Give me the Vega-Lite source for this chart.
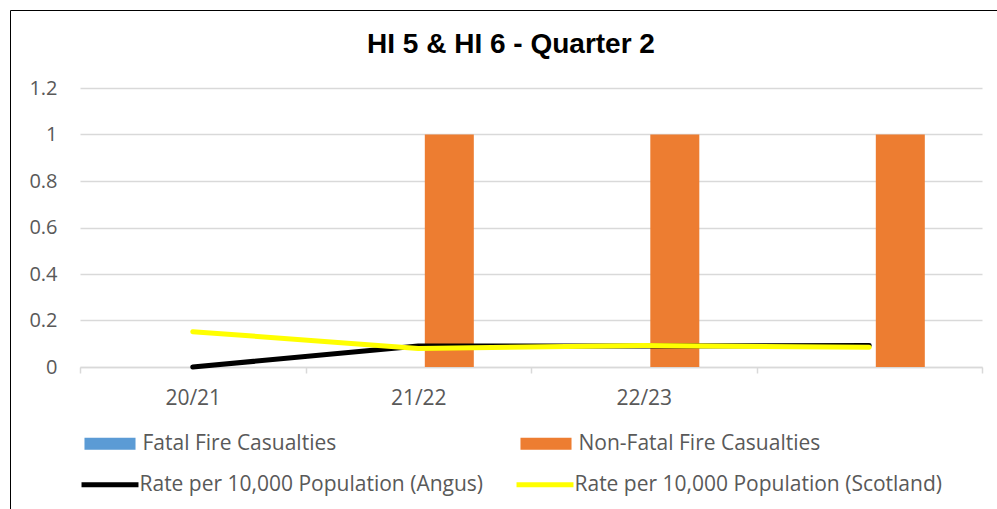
{
  "$schema": "https://vega.github.io/schema/vega-lite/v6.json",
  "width": 902,
  "height": 279,
  "autosize": {"type": "none"},
  "padding": {"left": 80, "top": 88, "right": 15, "bottom": 142},
  "background": "white",
  "title": {
    "text": "HI 5 & HI 6 - Quarter 2",
    "font": "Liberation Sans",
    "fontSize": 28,
    "fontWeight": "bold",
    "color": "#000000",
    "anchor": "middle",
    "frame": "group",
    "dx": -20,
    "offset": -71,
    "baseline": "alphabetic"
  },
  "config": {
    "view": {"stroke": null},
    "font": "Open Sans"
  },
  "layer": [
    {
      "data": {
        "values": [
          {"year": "20/21", "series": "Fatal Fire Casualties", "value": 0},
          {"year": "20/21", "series": "Non-Fatal Fire Casualties", "value": 0},
          {"year": "21/22", "series": "Fatal Fire Casualties", "value": 0},
          {"year": "21/22", "series": "Non-Fatal Fire Casualties", "value": 1},
          {"year": "22/23", "series": "Fatal Fire Casualties", "value": 0},
          {"year": "22/23", "series": "Non-Fatal Fire Casualties", "value": 1},
          {"year": " ", "series": "Fatal Fire Casualties", "value": 0},
          {"year": " ", "series": "Non-Fatal Fire Casualties", "value": 1}
        ]
      },
      "mark": {"type": "bar"},
      "encoding": {
        "x": {
          "field": "year",
          "type": "nominal",
          "sort": ["20/21", "21/22", "22/23", " "],
          "scale": {"paddingInner": 0, "paddingOuter": 0},
          "axis": {
            "title": null,
            "labelAngle": 0,
            "labelFont": "Open Sans",
            "labelFontSize": 21,
            "labelColor": "#595959",
            "labelPadding": 14,
            "tickBand": "extent",
            "ticks": true,
            "tickSize": 6,
            "tickColor": "#d9d9d9",
            "tickWidth": 1.5,
            "domainColor": "#d9d9d9",
            "domainWidth": 1.5,
            "grid": false
          }
        },
        "xOffset": {
          "field": "series",
          "type": "nominal",
          "scale": {
            "domain": ["Fatal Fire Casualties", "Non-Fatal Fire Casualties"],
            "paddingInner": 0.167,
            "paddingOuter": 1,
            "align": 0.514
          }
        },
        "y": {
          "field": "value",
          "type": "quantitative",
          "scale": {"domain": [0, 1.2]},
          "axis": {
            "title": null,
            "values": [0, 0.2, 0.4, 0.6, 0.8, 1, 1.2],
            "format": "~g",
            "labelFont": "Open Sans",
            "labelFontSize": 20,
            "labelColor": "#595959",
            "labelPadding": 23,
            "ticks": false,
            "domain": false,
            "grid": true,
            "gridColor": "#d9d9d9",
            "gridWidth": 1.5
          }
        },
        "fill": {
          "field": "series",
          "type": "nominal",
          "scale": {
            "domain": ["Fatal Fire Casualties", "Non-Fatal Fire Casualties"],
            "range": ["#5b9bd5", "#ed7d31"]
          },
          "legend": {
            "title": null,
            "orient": "none",
            "legendX": 19.5,
            "legendY": 345,
            "direction": "horizontal",
            "columns": 2,
            "columnPadding": 183,
            "labelFont": "Open Sans",
            "labelFontSize": 21,
            "labelColor": "#595959",
            "labelLimit": 600,
            "labelOffset": 22,
            "symbolSize": 256,
            "symbolType": "M-3.19,-0.75H3.19V0.75H-3.19Z",
            "symbolStrokeWidth": 0
          }
        }
      }
    },
    {
      "data": {
        "values": [
          {"year": "20/21", "series": "Rate per 10,000 Population (Angus)", "value": 0},
          {"year": "21/22", "series": "Rate per 10,000 Population (Angus)", "value": 0.09},
          {"year": "22/23", "series": "Rate per 10,000 Population (Angus)", "value": 0.09},
          {"year": " ", "series": "Rate per 10,000 Population (Angus)", "value": 0.092},
          {"year": "20/21", "series": "Rate per 10,000 Population (Scotland)", "value": 0.152},
          {"year": "21/22", "series": "Rate per 10,000 Population (Scotland)", "value": 0.08},
          {"year": "22/23", "series": "Rate per 10,000 Population (Scotland)", "value": 0.092},
          {"year": " ", "series": "Rate per 10,000 Population (Scotland)", "value": 0.085}
        ]
      },
      "mark": {"type": "line", "strokeWidth": 5, "strokeCap": "round", "strokeJoin": "round"},
      "encoding": {
        "x": {"field": "year", "type": "nominal", "sort": ["20/21", "21/22", "22/23", " "]},
        "y": {"field": "value", "type": "quantitative"},
        "stroke": {
          "field": "series",
          "type": "nominal",
          "scale": {
            "domain": ["Rate per 10,000 Population (Angus)", "Rate per 10,000 Population (Scotland)"],
            "range": ["#000000", "#ffff00"]
          },
          "legend": {
            "title": " ",
            "titleFontSize": 1,
            "titlePadding": 373.5,
            "orient": "none",
            "legendX": -70,
            "legendY": -78,
            "padding": 89.5,
            "strokeColor": "#000000",
            "direction": "horizontal",
            "columns": 2,
            "columnPadding": 23,
            "labelFont": "Open Sans",
            "labelFontSize": 21,
            "labelColor": "#595959",
            "labelLimit": 600,
            "labelOffset": 19,
            "symbolSize": 256,
            "symbolType": "M-3.56,0H3.56",
            "symbolStrokeWidth": 5,
            "symbolFillColor": "transparent"
          }
        }
      }
    }
  ]
}
